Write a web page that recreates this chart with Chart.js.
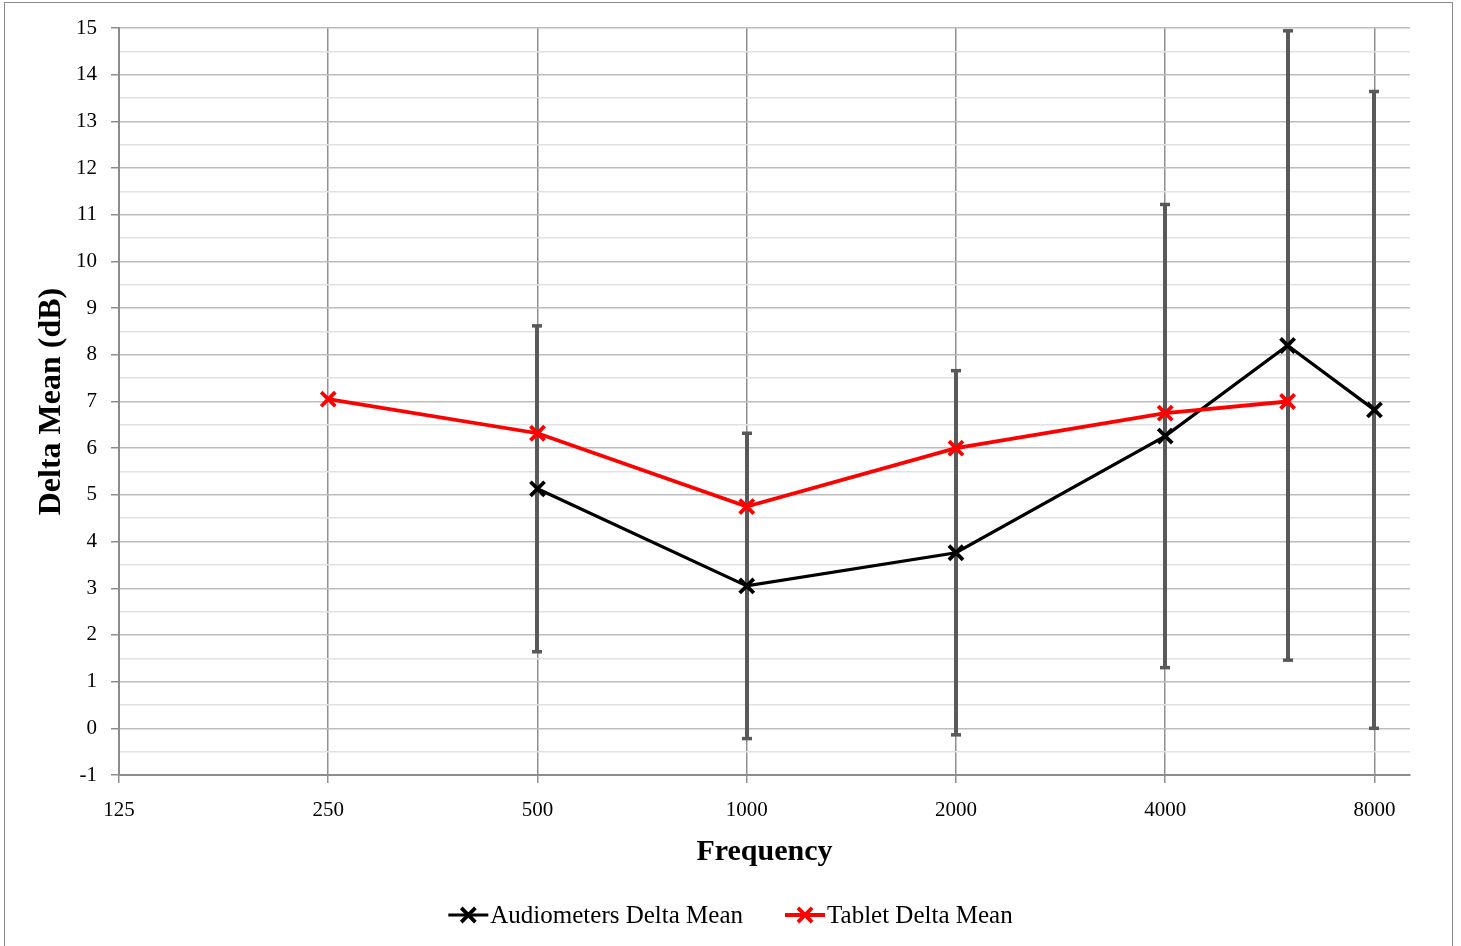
<!DOCTYPE html>
<html>
<head>
<meta charset="utf-8">
<title>Delta Mean by Frequency</title>
<script src="https://cdn.jsdelivr.net/npm/chart.js@4"></script>
<style>
  html, body { margin: 0; padding: 0; background: #ffffff; overflow: hidden; }
  #wrap { position: relative; width: 1461px; height: 946px; }
  #frame { position: absolute; left: 4px; top: 2px; width: 1449px; height: 1000px;
           border: 1px solid #8c8c8c; box-sizing: border-box; }
  #c { position: absolute; left: 0; top: 0; }
</style>
</head>
<body>
<div id="wrap">
  <div id="frame"></div>
  <canvas id="c" width="1461" height="946"></canvas>
</div>
<script>
// Frequency ticks (Hz) on the octave axis
const freqTicks = [125, 250, 500, 1000, 2000, 4000, 8000];

// Audiometers: mean difference and its spread (error bar half-length)
const audioFreqs = [500, 1000, 2000, 4000, 6000, 8000];
const audioMean  = [5.13, 3.05, 3.76, 6.26, 8.2, 6.82];
const audioSD    = [3.49, 3.27, 3.9, 4.96, 6.74, 6.82];

// Tablet: mean difference
const tabletFreqs = [250, 500, 1000, 2000, 4000, 6000];
const tabletMean  = [7.05, 6.32, 4.75, 6.0, 6.75, 7.0];

const FONT = "'Liberation Serif', 'Times New Roman', serif";
const LEFT_PAD = 20;

// Vertical error bars drawn beneath the series lines
const errorBarPlugin = {
  id: 'errorBars',
  beforeDatasetsDraw(chart) {
    const { ctx } = chart;
    const xs = chart.scales.x, ys = chart.scales.y;
    chart.data.datasets.forEach(ds => {
      if (!ds.errorBars) return;
      ds.data.forEach((p, j) => {
        const e = ds.errorBars[j];
        const px = Math.round(xs.getPixelForValue(p.x));
        const top = ys.getPixelForValue(p.y + e);
        const bot = ys.getPixelForValue(p.y - e);
        ctx.save();
        ctx.strokeStyle = '#595959';
        ctx.fillStyle = '#595959';
        ctx.lineWidth = 4;
        ctx.beginPath();
        ctx.moveTo(px, top);
        ctx.lineTo(px, bot);
        ctx.stroke();
        ctx.fillRect(px - 5, top - 1.75, 10, 3.5);
        ctx.fillRect(px - 5, bot - 1.75, 10, 3.5);
        ctx.restore();
      });
    });
  }
};

// Legend with a line sample and marker for each series
function drawCross(ctx, cx, cy, r) {
  const o = r * Math.SQRT1_2;
  ctx.beginPath();
  ctx.moveTo(cx - o, cy - o); ctx.lineTo(cx + o, cy + o);
  ctx.moveTo(cx + o, cy - o); ctx.lineTo(cx - o, cy + o);
  ctx.stroke();
}

const lineLegendPlugin = {
  id: 'lineLegend',
  afterDraw(chart, args, opts) {
    const ctx = chart.ctx;
    ctx.save();
    ctx.font = opts.font;
    const items = chart.data.datasets.map(ds => ({ ds, w: ctx.measureText(ds.label).width }));
    const total = items.reduce((s, it) => s + opts.iconWidth + opts.textGap + it.w, 0)
                + opts.itemGap * (items.length - 1);
    let x = chart.width / 2 - total / 2;
    const y = opts.y;
    items.forEach(it => {
      const ds = it.ds;
      ctx.strokeStyle = ds.borderColor;
      ctx.lineWidth = ds.borderWidth;
      ctx.lineCap = 'butt';
      ctx.beginPath();
      ctx.moveTo(x, y);
      ctx.lineTo(x + opts.iconWidth, y);
      ctx.stroke();
      ctx.lineWidth = ds.pointBorderWidth;
      drawCross(ctx, x + opts.iconWidth / 2, y, ds.pointRadius);
      ctx.fillStyle = '#000000';
      ctx.textBaseline = 'middle';
      ctx.textAlign = 'left';
      ctx.fillText(ds.label, x + opts.iconWidth + opts.textGap, y + 1);
      x += opts.iconWidth + opts.textGap + it.w + opts.itemGap;
    });
    ctx.restore();
  }
};

const toPoints = (xs, ys) => xs.map((f, i) => ({ x: f, y: ys[i] }));

new Chart(document.getElementById('c'), {
  type: 'line',
  data: {
    datasets: [
      {
        label: 'Audiometers Delta Mean',
        data: toPoints(audioFreqs, audioMean),
        errorBars: audioSD,
        borderColor: '#000000',
        backgroundColor: '#000000',
        borderWidth: 3.2,
        pointStyle: 'crossRot',
        pointRadius: 10,
        pointBorderWidth: 3.8,
        pointBorderColor: '#000000',
        pointHoverRadius: 10,
        tension: 0,
        order: 1
      },
      {
        label: 'Tablet Delta Mean',
        data: toPoints(tabletFreqs, tabletMean),
        borderColor: '#ff0000',
        backgroundColor: '#ff0000',
        borderWidth: 3.8,
        pointStyle: 'crossRot',
        pointRadius: 10,
        pointBorderWidth: 3.8,
        pointBorderColor: '#ff0000',
        pointHoverRadius: 10,
        tension: 0,
        order: 0
      }
    ]
  },
  options: {
    responsive: false,
    animation: false,
    events: [],
    layout: { padding: { left: LEFT_PAD, top: 28, right: 51, bottom: 0 } },
    plugins: {
      legend: { display: false },
      tooltip: { enabled: false },
      lineLegend: {
        font: "25px " + FONT,
        y: 915,
        iconWidth: 40,
        textGap: 2,
        itemGap: 42
      }
    },
    scales: {
      x: {
        type: 'logarithmic',
        min: 125,
        max: 9000,
        afterBuildTicks: s => { s.ticks = freqTicks.map(v => ({ value: v })); },
        afterFit: s => { s.height = 171; },
        ticks: {
          autoSkip: false,
          maxRotation: 0,
          minRotation: 0,
          padding: 15,
          color: '#000000',
          font: { family: FONT, size: 21 },
          callback: v => String(v)
        },
        grid: {
          color: '#8f8f8f',
          lineWidth: 1.5,
          tickLength: 8,
          tickColor: '#8f8f8f'
        },
        border: { color: '#8c8c8c', width: 2 },
        title: {
          display: true,
          text: 'Frequency',
          color: '#000000',
          font: { family: FONT, size: 30, weight: 'bold' },
          padding: { top: 0, bottom: 76 }
        }
      },
      y: {
        min: -1,
        max: 15,
        afterFit: s => { s.width = 119 - LEFT_PAD; },
        ticks: {
          stepSize: 0.5,
          autoSkip: false,
          padding: 14,
          color: '#000000',
          font: { family: FONT, size: 21 },
          callback: v => Number.isInteger(v) ? String(v) : ''
        },
        grid: {
          color: c => Number.isInteger(c.tick.value) ? '#bdbdbd' : '#e2e2e2',
          lineWidth: 1.5,
          tickLength: 8,
          tickColor: c => Number.isInteger(c.tick.value) ? '#8c8c8c' : 'rgba(0,0,0,0)'
        },
        border: { color: '#8c8c8c', width: 2 },
        title: {
          display: true,
          text: 'Delta Mean (dB)',
          color: '#000000',
          font: { family: FONT, size: 32, weight: 'bold' },
          padding: { top: 13, bottom: 0 }
        }
      }
    }
  },
  plugins: [errorBarPlugin, lineLegendPlugin]
});
</script>
</body>
</html>
